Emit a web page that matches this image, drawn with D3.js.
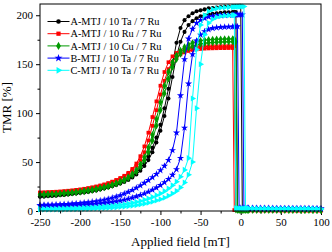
<!DOCTYPE html>
<html>
<head>
<meta charset="utf-8">
<script src="https://cdnjs.cloudflare.com/ajax/libs/d3/7.8.5/d3.min.js"></script>
<style>
  html, body { margin: 0; padding: 0; background: #fff; }
  svg { display: block; }
  svg text { font-family: "Liberation Serif", "Times New Roman", serif; }
</style>
</head>
<body>
<div id="chart"></div>
<script>
// applied field steps [mT]
const field = [
  -250, -245, -240, -235, -230, -225, -220, -215, -210, -205,
  -200, -195, -190, -185, -180, -175, -170, -165, -160, -155,
  -150, -145, -140, -135, -130, -125, -120, -115, -110, -105,
  -100, -95, -90, -85, -80, -75, -70, -65, -60, -55,
  -50, -45, -40, -35, -30, -25, -20, -15, -10,
  -8, -6, -4, -2, 0, 2, 4, 6, 8,
  10, 15, 20, 25, 30, 35, 40, 45, 50, 55, 60, 65, 70, 75, 80, 85, 90, 95, 100
];

// TMR [%], two branches per sample
const blackA = [
  15, 15.2, 15.5, 15.8, 16, 16.4, 16.8, 17.2, 17.7, 18.2,
  18.8, 19.4, 20, 20.8, 21.6, 22.5, 23.5, 24.6, 25.8, 27.2,
  28.8, 30.6, 32.8, 35.5, 39, 43.5, 49, 56, 64.5, 75,
  88, 105, 125, 150, 172, 187, 195, 199, 202, 204,
  205, 206, 207, 207.5, 208, 208.5, 209, 209, 209.2,
  209.3, 209.4, 209.5, 209.6, 209.7, 1.8, 1.6, 1.6, 1.5,
  1.5, 1.5, 1.4, 1.5, 1.4, 1.4, 1.5, 1.4, 1.4, 1.4, 1.3, 1.4, 1.4, 1.3, 1.4, 1.3, 1.3, 1.4, 1.3
];
const blackB = [
  14.5, 14.7, 15, 15.3, 15.6, 16, 16.4, 16.8, 17.3, 17.8,
  18.3, 18.9, 19.5, 20.2, 21, 21.9, 22.9, 24, 25.2, 26.5,
  28, 29.7, 31.7, 34.2, 37.3, 41.2, 46, 52, 60, 70,
  82, 97, 115, 137, 158, 173, 183, 190, 194, 197,
  199, 200, 201, 201.5, 202, 202.5, 203, 203, 203.2,
  203.3, 203.4, 1.9, 1.8, 1.7, 1.6, 1.6, 1.5, 1.5,
  1.5, 1.4, 1.5, 1.4, 1.4, 1.5, 1.4, 1.4, 1.3, 1.4, 1.4, 1.3, 1.4, 1.3, 1.3, 1.3, 1.4, 1.3, 1.3
];
const redA = [
  19, 19.1, 19.3, 19.5, 19.7, 20, 20.3, 20.7, 21.1, 21.6,
  22.1, 22.7, 23.4, 24.2, 25.1, 26.1, 27.2, 28.5, 30, 31.7,
  33.7, 36, 39, 43, 48.5, 56, 66, 80, 96, 112,
  128, 142, 152, 158, 161.5, 163.5, 165, 166, 167, 167.5,
  168, 168, 168.2, 168.3, 168.3, 168.4, 168.4, 168.5, 168.5,
  168.5, 0.9, 0.8, 0.8, 0.8, 0.8, 0.7, 0.7, 0.7,
  0.7, 0.7, 0.7, 0.6, 0.7, 0.6, 0.6, 0.7, 0.6, 0.6, 0.6, 0.6, 0.5, 0.6, 0.6, 0.5, 0.6, 0.5, 0.5
];
const redB = [
  18.5, 18.6, 18.8, 19, 19.2, 19.5, 19.8, 20.2, 20.6, 21.1,
  21.6, 22.2, 22.9, 23.7, 24.6, 25.6, 26.7, 28, 29.5, 31.2,
  33, 35.2, 38, 41.5, 46, 52, 60, 72, 87, 103,
  119, 133, 145, 152.5, 157, 160, 162, 163.5, 164.5, 165.2,
  165.6, 165.9, 166.1, 166.2, 166.3, 166.4, 166.4, 166.5, 166.5,
  0.9, 0.9, 0.8, 0.8, 0.8, 0.8, 0.7, 0.7, 0.7,
  0.7, 0.6, 0.7, 0.6, 0.6, 0.7, 0.6, 0.6, 0.6, 0.5, 0.6, 0.6, 0.5, 0.6, 0.5, 0.5, 0.5, 0.6, 0.5
];
const greenA = [
  17, 17.1, 17.3, 17.5, 17.7, 18, 18.3, 18.6, 19, 19.5,
  20, 20.6, 21.2, 21.9, 22.7, 23.6, 24.6, 25.8, 27.1, 28.6,
  30.3, 32.3, 34.8, 38, 42, 47.5, 55, 65, 78, 94,
  111, 128, 142, 152, 159, 164, 167.5, 170, 171.8, 173,
  174, 174.6, 175, 175.3, 175.5, 175.6, 175.7, 175.8, 175.8,
  175.8, 1.2, 1.1, 1.1, 1, 1, 1, 1, 1,
  1, 1, 1, 0.9, 1, 0.9, 0.9, 0.9, 1, 0.9, 0.9, 0.8, 0.9, 0.9, 0.8, 0.9, 0.8, 0.8, 0.8
];
const greenB = [
  16.5, 16.6, 16.8, 17, 17.2, 17.5, 17.8, 18.1, 18.5, 19,
  19.5, 20, 20.6, 21.3, 22, 22.9, 23.9, 25, 26.3, 27.7,
  29.3, 31.2, 33.5, 36.4, 40, 45, 51.5, 60, 72, 87,
  103, 120, 135, 147, 155, 160.5, 164, 166.5, 168.3, 169.7,
  170.7, 171.4, 171.9, 172.2, 172.5, 172.7, 172.8, 172.9, 173,
  173, 173, 1.2, 1.1, 1.1, 1, 1, 1, 1,
  1, 0.9, 1, 1, 0.9, 0.9, 1, 0.9, 0.9, 0.9, 0.8, 0.9, 0.9, 0.8, 0.8, 0.9, 0.8, 0.8, 0.8
];
const blueA = [
  6, 6.1, 6.2, 6.3, 6.5, 6.7, 6.9, 7.1, 7.4, 7.7,
  8, 8.4, 8.8, 9.3, 9.9, 10.6, 11.4, 12.3, 13.4, 14.6,
  16, 17.6, 19.4, 21.4, 23.6, 26, 28.6, 31.4, 34.4, 37.7,
  41.5, 46, 52, 62, 80, 118, 155, 176, 186, 192,
  195, 197, 198.3, 199, 199.5, 199.8, 200, 200.2, 200.3,
  200.4, 200.5, 200.5, 200.6, 200.6, 200.6, 3, 2.9, 2.9,
  2.8, 2.8, 2.8, 2.7, 2.7, 2.7, 2.7, 2.6, 2.6, 2.6, 2.6, 2.6, 2.5, 2.5, 2.5, 2.5, 2.5, 2.5, 2.4
];
const blueB = [
  5.5, 5.5, 5.6, 5.6, 5.7, 5.7, 5.8, 5.9, 6, 6.1,
  6.2, 6.4, 6.6, 6.8, 7.1, 7.5, 7.9, 8.4, 9, 9.7,
  10.5, 11.4, 12.4, 13.5, 14.8, 16.2, 17.8, 19.6, 21.6, 23.8,
  26.3, 29.2, 32.6, 36.8, 42.5, 54, 85, 130, 160, 174,
  180, 183.5, 185.5, 186.7, 187.4, 187.8, 188, 188.2, 188.3,
  188.4, 188.4, 188.5, 3.1, 3, 3, 2.9, 2.9, 2.8,
  2.8, 2.8, 2.7, 2.7, 2.7, 2.7, 2.6, 2.6, 2.6, 2.6, 2.6, 2.5, 2.5, 2.5, 2.5, 2.5, 2.4, 2.4, 2.4
];
const cyanA = [
  2, 2.1, 2.1, 2.2, 2.3, 2.4, 2.5, 2.6, 2.7, 2.8,
  3, 3.2, 3.4, 3.6, 3.9, 4.2, 4.5, 4.9, 5.3, 5.8,
  6.3, 6.9, 7.6, 8.4, 9.3, 10.3, 11.5, 12.8, 14.3, 16,
  18, 20.3, 23, 26.2, 30, 35, 42, 54, 115, 165,
  190, 200, 204, 206, 207, 207.6, 208, 208.3, 208.5,
  208.6, 208.7, 208.8, 208.8, 208.9, 209, 209, 2.6, 2.5,
  2.5, 2.5, 2.4, 2.4, 2.4, 2.4, 2.3, 2.3, 2.3, 2.3, 2.3, 2.2, 2.2, 2.2, 2.2, 2.2, 2.2, 2.1, 2.1
];
const cyanB = [
  1.5, 1.5, 1.6, 1.6, 1.6, 1.7, 1.7, 1.8, 1.8, 1.9,
  2, 2.1, 2.2, 2.3, 2.5, 2.7, 2.9, 3.1, 3.4, 3.7,
  4, 4.4, 4.9, 5.4, 6, 6.7, 7.5, 8.4, 9.5, 10.7,
  12, 13.6, 15.5, 17.8, 20.5, 24, 29, 37, 50, 105,
  150, 180, 192, 196, 198, 199, 199.5, 199.8, 200,
  200.1, 2.8, 2.7, 2.6, 2.6, 2.6, 2.5, 2.5, 2.5,
  2.5, 2.4, 2.4, 2.4, 2.4, 2.3, 2.3, 2.3, 2.3, 2.3, 2.2, 2.2, 2.2, 2.2, 2.2, 2.1, 2.1, 2.1, 2.1
];

const sampleNames = ["A-MTJ / 10 Ta / 7 Ru", "A-MTJ / 10 Ru / 7 Ru", "A-MTJ / 10 Cu / 7 Ru", "B-MTJ / 10 Ta / 7 Ru", "C-MTJ / 10 Ta / 7 Ru"];
const xTicks = [-250, -200, -150, -100, -50, 0, 50, 100];
const xMinorTicks = [-225, -175, -125, -75, -25, 25, 75];
const yTicks = [0, 50, 100, 150, 200];
const yMinorTicks = [25, 75, 125, 175];

document.addEventListener("DOMContentLoaded", function() {

  let svgWidth = 332,
      svgHeight = 252,
      margin = {top: 4, right: 11, bottom: 41, left: 40},
      width = svgWidth - margin.left - margin.right,
      height = svgHeight - margin.top - margin.bottom;

  let svg = d3.select("#chart")
              .append("svg")
              .attr("width", svgWidth)
              .attr("height", svgHeight);

  let g = svg.append("g").attr("transform", `translate(${margin.left},${margin.top})`);

  let x = d3.scaleLinear().domain([-250, 100]).range([0, width]);
  let y = d3.scaleLinear().domain([0, 211.5]).range([height, 0]);

  let series = [
    {name: sampleNames[0], color: "#000000", symbol: d3.symbolCircle, size: 13, rotate: 0, branches: [blackA, blackB]},
    {name: sampleNames[1], color: "#ff0000", symbol: d3.symbolSquare, size: 14, rotate: 0, branches: [redA, redB]},
    {name: sampleNames[2], color: "#009900", symbol: d3.symbolDiamond, size: 16, rotate: 0, branches: [greenA, greenB]},
    {name: sampleNames[3], color: "#0000ff", symbol: d3.symbolStar, size: 16, rotate: 0, branches: [blueA, blueB]},
    {name: sampleNames[4], color: "#00ffff", symbol: d3.symbolTriangle, size: 16, rotate: 90, branches: [cyanA, cyanB]}
  ];

  // axes
  let xAxis = g.append("g")
    .attr("transform", `translate(0,${height})`)
    .call(d3.axisBottom(x).tickValues(xTicks).tickSize(4).tickPadding(3).tickSizeOuter(0));
  g.append("g")
    .attr("transform", `translate(0,${height})`)
    .call(d3.axisBottom(x).tickValues(xMinorTicks).tickSize(2.5).tickFormat("").tickSizeOuter(0));
  let yAxis = g.append("g")
    .call(d3.axisLeft(y).tickValues(yTicks).tickSize(4).tickPadding(3).tickSizeOuter(0));
  g.append("g")
    .call(d3.axisLeft(y).tickValues(yMinorTicks).tickSize(2.5).tickFormat("").tickSizeOuter(0));

  g.selectAll(".domain").remove();
  g.selectAll(".tick line").attr("stroke", "#000");
  g.selectAll(".tick text")
    .attr("fill", "#000")
    .style("font-family", "'Liberation Serif', 'Times New Roman', serif")
    .style("font-size", "11px");
  xAxis.selectAll(".tick text").text(function(d) { return d; });

  // data
  let line = d3.line()
    .x(function(d) { return x(d[0]); })
    .y(function(d) { return y(d[1]); });

  let plots = g.append("g").attr("class", "plots");

  series.forEach(function(s) {
    let group = plots.append("g");
    s.branches.forEach(function(values) {
      let pts = field.map(function(f, i) { return [f, values[i]]; });
      group.append("path")
        .datum(pts)
        .attr("fill", "none")
        .attr("stroke", s.color)
        .attr("stroke-width", 1)
        .attr("d", line);
      group.selectAll(null)
        .data(pts)
        .enter().append("path")
          .attr("d", d3.symbol().type(s.symbol).size(s.size))
          .attr("fill", s.color)
          .attr("transform", function(d) {
            return `translate(${x(d[0])},${y(d[1])}) rotate(${s.rotate})`;
          });
    });
  });

  // frame
  g.append("rect")
    .attr("width", width)
    .attr("height", height)
    .attr("fill", "none")
    .attr("stroke", "#000")
    .attr("stroke-width", 1);

  // legend
  let legend = g.append("g").attr("transform", "translate(7.5,17.5)");
  series.forEach(function(s, i) {
    let row = legend.append("g").attr("transform", `translate(0,${i * 12.2})`);
    row.append("line")
      .attr("x1", 0).attr("x2", 22)
      .attr("stroke", s.color)
      .attr("stroke-width", 1);
    row.append("path")
      .attr("d", d3.symbol().type(s.symbol).size(s.size + 4))
      .attr("fill", s.color)
      .attr("transform", `translate(11,0) rotate(${s.rotate})`);
    row.append("text")
      .attr("x", 23)
      .attr("y", 3.6)
      .style("font-size", "10.3px")
      .attr("fill", "#000")
      .text(s.name);
  });

  // axis titles
  svg.append("text")
    .attr("x", margin.left + width / 2)
    .attr("y", 246)
    .attr("text-anchor", "middle")
    .style("font-size", "13px")
    .text("Applied field [mT]");

  svg.append("text")
    .attr("transform", `translate(11,${margin.top + height / 2}) rotate(-90)`)
    .attr("text-anchor", "middle")
    .style("font-size", "13px")
    .text("TMR [%]");

});
</script>
</body>
</html>
